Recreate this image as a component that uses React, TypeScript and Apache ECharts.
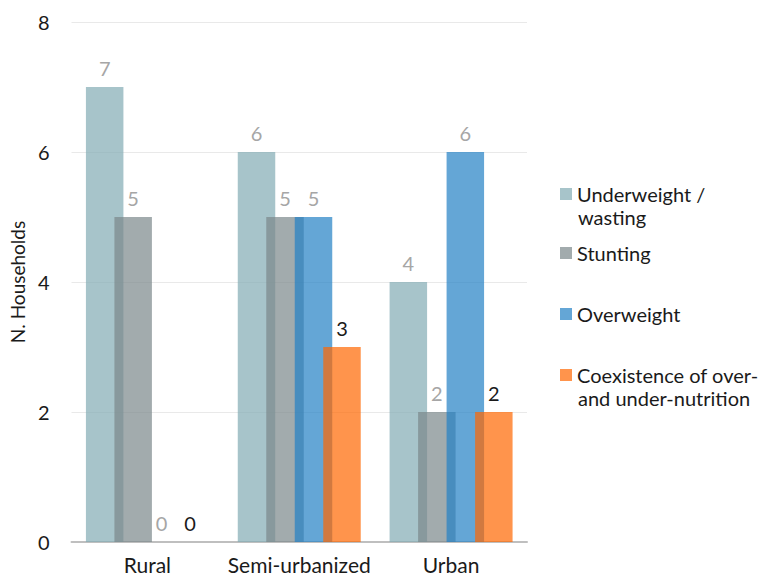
import React, { useEffect, useRef } from "react";
import * as echarts from "echarts";

const categories = ["Rural", "Semi-urbanized", "Urban"];
const seriesNames = [
  "Underweight / wasting",
  "Stunting",
  "Overweight",
  "Coexistence of over- and under-nutrition",
];
const legendFirstLines = ["Underweight /", "Stunting", "Overweight", "Coexistence of over-"];
const legendSecondLines = ["wasting", "", "", "and under-nutrition"];
const underweight = [7, 6, 4];
const stunting = [5, 5, 2];
const overweight = [0, 5, 6];
const coexistence = [0, 3, 2];
const yTicks = { min: 0, max: 8, interval: 2 };

const FONT = "Lato";
const colors = [
  "rgba(129,171,179,0.7)",
  "rgba(122,135,138,0.7)",
  "rgba(34,128,196,0.7)",
  "rgba(255,102,0,0.7)",
];
const labelColors = ["#a6a6a6", "#a6a6a6", "#a6a6a6", "#1a1a1a"];
const legendTops = [181, 240, 301, 362];
const legendIconCenters = [194, 253, 314, 375];

export default function App() {
  const ref = useRef<HTMLDivElement>(null);
  useEffect(() => {
    if (!ref.current) return;
    const chart = echarts.init(ref.current, undefined, { renderer: "svg" });
    const data = [underweight, stunting, overweight, coexistence];
    chart.setOption({
      animation: false,
      backgroundColor: "#ffffff",
      textStyle: { fontFamily: FONT },
      grid: { left: 71, right: 236, top: 22, bottom: 37 },
      legend: seriesNames.map((name, i) => ({
        data: [name],
        orient: "vertical",
        left: 560,
        top: legendTops[i],
        icon: "rect",
        itemWidth: 12,
        itemHeight: 12,
        padding: 0,
        selectedMode: false,
        formatter: () => legendFirstLines[i],
        textStyle: {
          fontFamily: FONT,
          fontSize: 20,
          color: "#1a1a1a",
          lineHeight: 26,
        },
      })),
      graphic: legendSecondLines
        .map((t, i) =>
          t
            ? {
                type: "text",
                left: 578,
                top: legendIconCenters[i] + 10,
                style: {
                  text: t,
                  fontFamily: FONT,
                  fontSize: 20,
                  fill: "#1a1a1a",
                  lineHeight: 26,
                },
              }
            : null
        )
        .filter(Boolean),
      xAxis: {
        type: "category",
        data: categories,
        axisLine: { lineStyle: { color: "#bfbfbf", width: 2 } },
        axisTick: { show: false },
        axisLabel: {
          fontFamily: FONT,
          fontSize: 21,
          color: "#1a1a1a",
          margin: 12,
          interval: 0,
        },
      },
      yAxis: {
        type: "value",
        min: yTicks.min,
        max: yTicks.max,
        interval: yTicks.interval,
        name: "N. Households",
        nameLocation: "middle",
        nameGap: 42,
        nameTextStyle: { fontFamily: FONT, fontSize: 19, color: "#1a1a1a" },
        axisLine: { show: false },
        axisTick: { show: false },
        axisLabel: { fontFamily: FONT, fontSize: 20, color: "#1a1a1a", margin: 22 },
        splitLine: { lineStyle: { color: "#e9e9e9", width: 1 } },
      },
      series: seriesNames.map((name, i) => ({
        name,
        type: "bar",
        data: data[i],
        barGap: "-24%",
        barCategoryGap: "19%",
        itemStyle: { color: colors[i] },
        label: {
          show: true,
          position: "top",
          distance: 9,
          fontFamily: FONT,
          fontSize: 20,
          color: labelColors[i],
        },
      })),
    });
    return () => chart.dispose();
  }, []);
  return (
    <div
      ref={ref}
      style={{ position: "fixed", left: 0, top: 0, width: 763, height: 579 }}
    />
  );
}
